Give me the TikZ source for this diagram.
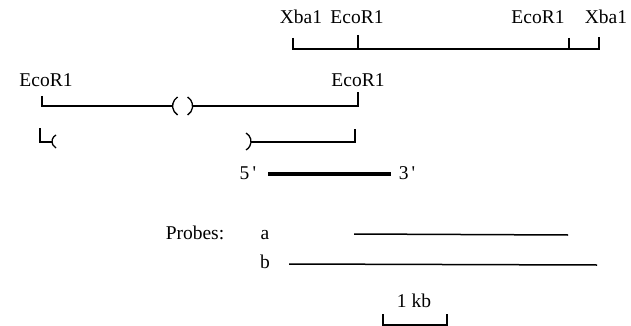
\documentclass[tikz,border=0pt]{standalone}
\usepackage{fontspec}
\setmainfont{Liberation Serif}
\begin{document}
\begin{tikzpicture}[x=1pt,y=-1pt,
  lbl/.style={font=\fontsize{19.5}{22}\selectfont, inner sep=0pt, anchor=base},
  thin/.style={line width=1.5pt},
  thick/.style={line width=4pt},
  brk/.style={line width=1.3pt}]
\useasboundingbox (0,0) rectangle (631,326);
% top map
\node[lbl] (x1) at (301,24) {Xba1};
\node[lbl] (e1) at (357,24) {EcoR1};
\node[lbl] (e2) at (538,24) {EcoR1};
\node[lbl] (x2) at (606,24) {Xba1};
\coordinate (tx1) at (293,49);
\coordinate (te1) at (358,49);
\coordinate (te2) at (569,49);
\coordinate (tx2) at (599,49);
\draw[thin] (293,38) -- (tx1) -- (tx2) -- (599,37);
\draw[thin] (358,35) -- (te1);
\draw[thin] (569,38) -- (te2);
% second row
\node[lbl] (e3) at (46,87) {EcoR1};
\node[lbl] (e4) at (358,87) {EcoR1};
\coordinate (l1) at (42,106);
\coordinate (r1) at (358,106);
\draw[thin] (42,96) -- (l1) -- (172,106);
\draw[thin] (193,106) -- (r1) -- (358,92);
\draw[brk] (177.6,97) arc[start angle=122,end angle=238,radius=10.6pt];
\draw[brk] (187.6,97) arc[start angle=58,end angle=-58,radius=10.6pt];
% third row
\draw[thin] (40,128) -- (40,142) -- (52,142);
\draw[brk] (56,135) arc[start angle=117,end angle=243,radius=7.3pt];
\draw[thin] (251,142) -- (355,142) -- (355,129);
\draw[brk] (246,133) arc[start angle=61,end angle=-61,radius=9.7pt];
% thick strand
\node[lbl] (p5) at (248,179) {5\,\textquotesingle};
\node[lbl] (p3) at (407,179) {3\,\textquotesingle};
\draw[thick] (268,174) -- (391,174);
% probes
\node[lbl] (pr) at (195,239) {Probes:};
\node[lbl] (pa) at (265,239) {a};
\node[lbl] (pb) at (265,268) {b};
\draw[thin] (354,234) -- (568,235);
\draw[thin] (289,264) -- (597,265);
% scale bar
\node[lbl] (kb) at (414,307) {1 kb};
\draw[thin] (383,314) -- (383,325) -- (447,325) -- (447,314);
\end{tikzpicture}
\end{document}
